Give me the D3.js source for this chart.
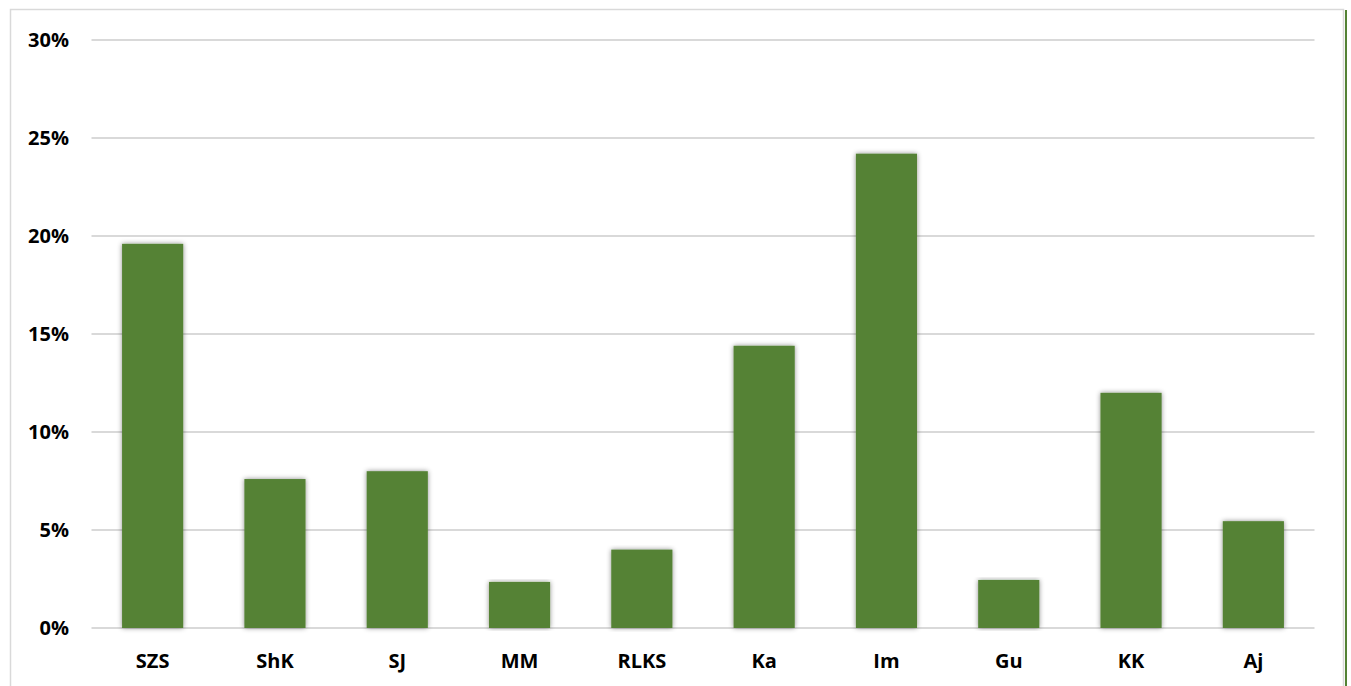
<!DOCTYPE html>
<html>
<head>
<meta charset="utf-8">
<script src="https://cdn.jsdelivr.net/npm/d3@7/dist/d3.min.js"></script>
<style>
  html, body { margin: 0; padding: 0; background: #fff; }
  svg { display: block; }
  text { font-family: "Open Sans", "Lato", sans-serif; font-weight: 700; fill: #000; }
</style>
</head>
<body>
<svg id="chart" width="1351" height="686"></svg>
<script>
// Share of each group (fraction of total)
const categories = ["SZS", "ShK", "SJ", "MM", "RLKS", "Ka", "Im", "Gu", "KK", "Aj"];
const shares = [0.196, 0.076, 0.080, 0.0235, 0.040, 0.144, 0.242, 0.0245, 0.120, 0.0545];
const yTicks = [0, 0.05, 0.10, 0.15, 0.20, 0.25, 0.30];

const W = 1351, H = 686;
const plot = { left: 91.5, right: 1314.5, top: 40, bottom: 628 };

const svg = d3.select("#chart");

// soft shadow around the columns
const defs = svg.append("defs");
const f = defs.append("filter").attr("id", "barShadow")
  .attr("x", "-20%").attr("y", "-5%").attr("width", "140%").attr("height", "110%");
f.append("feDropShadow").attr("dx", 0).attr("dy", 0)
  .attr("stdDeviation", 2.5).attr("flood-color", "#000").attr("flood-opacity", 0.45);

// chart frame
svg.append("path")
  .attr("d", `M10.5,${H} V9.5 H1343.5 V${H}`)
  .attr("fill", "none").attr("stroke", "#d9d9d9").attr("stroke-width", 1.5);
svg.append("line")
  .attr("x1", 1346).attr("x2", 1346).attr("y1", 10).attr("y2", H)
  .attr("stroke", "#548235").attr("stroke-width", 2);

const x = d3.scaleBand()
  .domain(categories)
  .range([plot.left, plot.right])
  .paddingInner(0.5)
  .paddingOuter(0.25);

const y = d3.scaleLinear()
  .domain([0, 0.30])
  .range([plot.bottom, plot.top]);

// horizontal gridlines
svg.append("g")
  .selectAll("line")
  .data(yTicks)
  .join("line")
  .attr("x1", plot.left).attr("x2", plot.right)
  .attr("y1", d => y(d)).attr("y2", d => y(d))
  .attr("stroke", "#d9d9d9").attr("stroke-width", 2);

// y axis labels
const yAxis = d3.axisLeft(y)
  .tickValues(yTicks)
  .tickFormat(d3.format(".0%"))
  .tickSize(0)
  .tickPadding(0);
const gy = svg.append("g").attr("transform", "translate(69,0)").call(yAxis);
gy.select(".domain").remove();
gy.selectAll("text").attr("font-size", 20).attr("fill", "#000")
  .style("font-family", "'Open Sans', sans-serif").style("font-weight", 700);

// columns
svg.append("g")
  .selectAll("rect")
  .data(categories.map((c, i) => ({ c, v: shares[i] })))
  .join("rect")
  .attr("x", d => x(d.c))
  .attr("y", d => y(d.v))
  .attr("width", x.bandwidth())
  .attr("height", d => y(0) - y(d.v))
  .attr("fill", "#548235")
  .attr("filter", "url(#barShadow)");

// category labels
const xAxis = d3.axisBottom(x).tickSize(0).tickPadding(0);
const gx = svg.append("g").attr("transform", "translate(0,661)").call(xAxis);
gx.select(".domain").remove();
gx.selectAll("text").attr("font-size", 20).attr("fill", "#000").attr("dy", "0.35em")
  .style("font-family", "'Open Sans', sans-serif").style("font-weight", 700);
</script>
</body>
</html>
